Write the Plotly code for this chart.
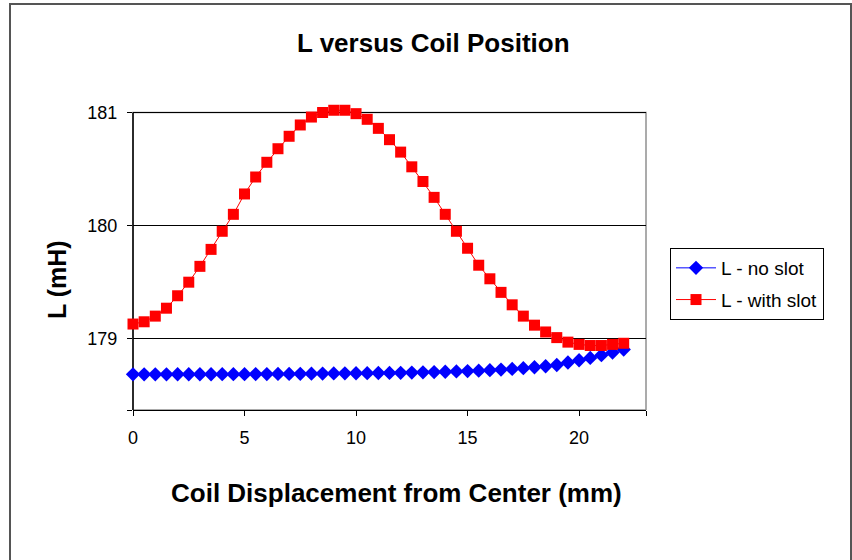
import plotly.graph_objects as go

# Data
displacement_mm = [0, 0.5, 1, 1.5, 2, 2.5, 3, 3.5, 4, 4.5, 5, 5.5, 6, 6.5, 7, 7.5, 8, 8.5, 9, 9.5,
                   10, 10.5, 11, 11.5, 12, 12.5, 13, 13.5, 14, 14.5, 15, 15.5, 16, 16.5, 17, 17.5,
                   18, 18.5, 19, 19.5, 20, 20.5, 21, 21.5, 22]

L_no_slot = [178.685, 178.685, 178.685, 178.685, 178.686, 178.686, 178.686, 178.686, 178.687, 178.687,
             178.687, 178.688, 178.688, 178.689, 178.689, 178.690, 178.691, 178.692, 178.693, 178.694,
             178.695, 178.696, 178.697, 178.698, 178.699, 178.701, 178.703, 178.705, 178.708, 178.711,
             178.714, 178.718, 178.722, 178.727, 178.733, 178.740, 178.748, 178.757, 178.768, 178.790,
             178.810, 178.830, 178.855, 178.878, 178.905]

L_with_slot = [179.13, 179.15, 179.20, 179.27, 179.38, 179.50, 179.64, 179.79, 179.95, 180.10,
               180.28, 180.43, 180.56, 180.68, 180.79, 180.89, 180.96, 181.00, 181.02, 181.02,
               180.99, 180.94, 180.86, 180.76, 180.65, 180.52, 180.39, 180.25, 180.10, 179.95,
               179.80, 179.65, 179.53, 179.41, 179.30, 179.20, 179.12, 179.06, 179.01, 178.97,
               178.95, 178.94, 178.94, 178.95, 178.96]

x_ticks = [0, 5, 10, 15, 20, 23]
x_tick_labels = ["0", "5", "10", "15", "20", ""]
y_ticks = [178.37, 179, 180, 181]
y_tick_labels = ["", "179", "180", "181"]
x_range = [0, 23]
y_min, y_max, y_top = 178.37, 181.0, 181.04

title_text = "L versus Coil Position"
x_title = "Coil Displacement from Center (mm)"
y_title = "L (mH)"
series_names = ["L - no slot", "L - with slot"]

FONT = "Liberation Sans, Arial, sans-serif"

fig = go.Figure()
fig.add_trace(go.Scatter(
    x=displacement_mm, y=L_no_slot, name=series_names[0], mode="lines+markers",
    line=dict(color="#0000FF", width=1),
    marker=dict(symbol="diamond", size=11, color="#0000FF"),
    cliponaxis=False, legendgroup="a"))
fig.add_trace(go.Scatter(
    x=displacement_mm, y=L_with_slot, name=series_names[1], mode="lines+markers",
    line=dict(color="#FF0000", width=1),
    marker=dict(symbol="square", size=11, color="#FF0000"),
    cliponaxis=False, legendgroup="b"))

W, H = 852, 560
L_, R_, T_, B_ = 133, 646, 108, 410   # pixels of plot area
pw, ph = R_ - L_, B_ - T_

def px(xp):
    return (xp - L_) / pw

def py(yp):
    return (B_ - yp) / ph

fig.update_layout(
    width=W, height=H,
    margin=dict(l=L_, r=W - R_, t=T_, b=H - B_, pad=0),
    paper_bgcolor="white", plot_bgcolor="white",
    font=dict(family=FONT, color="black", size=18),
    showlegend=True,
    legend=dict(x=px(670), y=py(248), xanchor="left", yanchor="top",
                bordercolor="black", borderwidth=1, bgcolor="white",
                font=dict(size=19, family=FONT), tracegroupgap=4,
                traceorder="grouped", itemwidth=40),
    xaxis=dict(range=x_range, tickvals=x_ticks, ticktext=x_tick_labels,
               showgrid=False, zeroline=False, showline=True, linecolor="black", linewidth=1,
               ticks="outside", ticklen=5, tickcolor="black", tickwidth=1,
               tickfont=dict(size=18, family=FONT), ticklabelstandoff=6),
    yaxis=dict(range=[y_min, y_top], tickvals=y_ticks, ticktext=y_tick_labels,
               showgrid=True, gridcolor="black", gridwidth=1, zeroline=False,
               showline=False,
               ticks="outside", ticklen=5, tickcolor="black", tickwidth=1,
               tickfont=dict(size=18, family=FONT), ticklabelstandoff=6),
    shapes=[
        # plot-area frame (grey) from the bottom of the axis up to the 181 line
        dict(type="rect", xref="paper", yref="y", x0=0, x1=1, y0=y_min, y1=y_max,
             line=dict(color="#909090", width=1.5), fillcolor="rgba(0,0,0,0)", layer="between"),
        # black value axis line
        dict(type="line", xref="paper", yref="y", x0=0, x1=0, y0=y_min, y1=y_max,
             line=dict(color="black", width=1.5), layer="between"),
        # outer chart frame
        dict(type="rect", xref="paper", yref="paper", x0=px(10), x1=px(851), y0=py(575), y1=py(4),
             line=dict(color="#555555", width=2), fillcolor="rgba(0,0,0,0)", layer="below"),
    ],
    annotations=[
        dict(text="<b>" + title_text + "</b>", xref="paper", yref="paper",
             x=px(433), y=py(43), xanchor="center", yanchor="middle", showarrow=False,
             font=dict(size=26, family=FONT)),
        dict(text="<b>" + x_title + "</b>", xref="paper", yref="paper",
             x=px(396), y=py(493), xanchor="center", yanchor="middle", showarrow=False,
             font=dict(size=26, family=FONT)),
        dict(text="<b>" + y_title + "</b>", xref="paper", yref="paper",
             x=px(57), y=py(280), xanchor="center", yanchor="middle", showarrow=False,
             textangle=-90, font=dict(size=25, family=FONT)),
    ],
)

fig.write_html("out.html", config={"displayModeBar": False},
               post_script="document.body.style.margin='0px';")
